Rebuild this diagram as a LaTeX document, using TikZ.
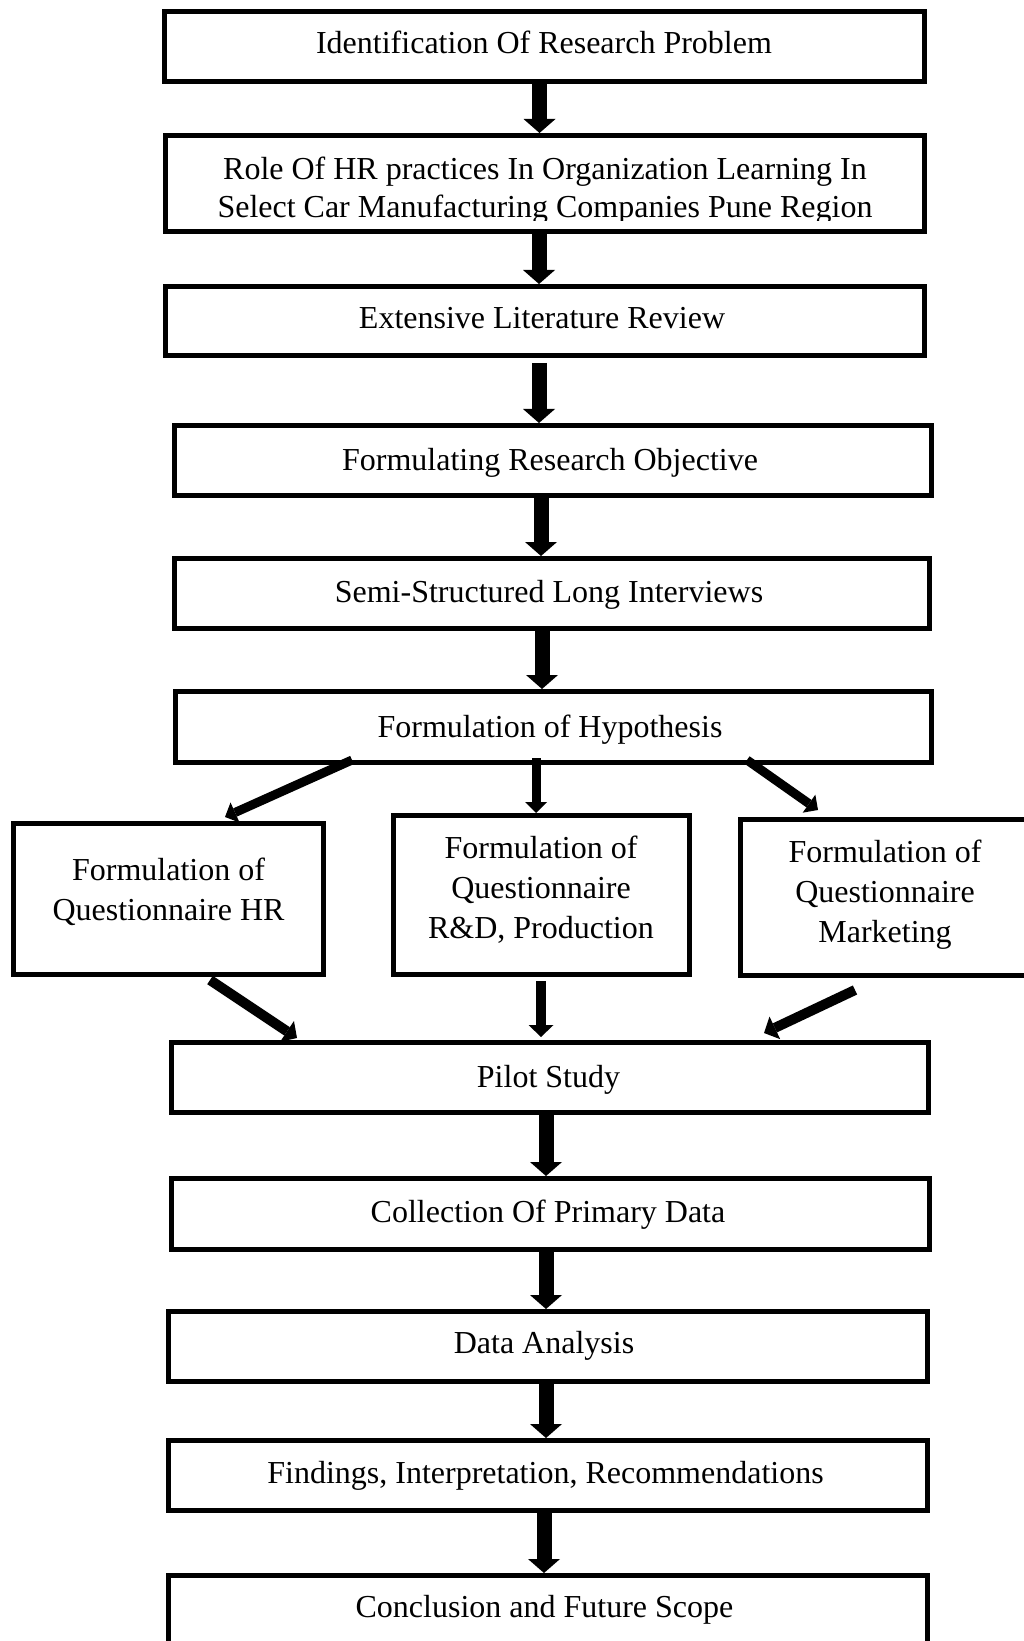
\documentclass[tikz,border=0pt]{standalone}
\usepackage{fontspec}
\setmainfont{Liberation Serif}
\usetikzlibrary{arrows.meta,calc}
\tikzset{
  boxnode/.style={draw, line width=2.5pt, inner sep=0pt, outer sep=1.25pt},
  txt/.style={font=\fontsize{16pt}{20pt}\selectfont, align=center, inner sep=0pt},
  bigarr/.style={line width=7.5pt, -{Triangle[width=16pt,length=7pt,line width=0pt]}},
  midarr/.style={line width=5pt, -{Triangle[width=12.5pt,length=6pt,line width=0pt]}},
  smallarr/.style={line width=4.5pt, -{Triangle[width=11pt,length=5.5pt,line width=0pt]}}
}
% name, left, top, right, bottom (outer edges, in pixels)
\newcommand\flowbox[5]{%
  \node[boxnode, minimum width={(#4-#2-5)*0.5pt}, minimum height={(#5-#3-5)*0.5pt}]
    (#1) at ({(#2+#4)/2},{(#3+#5)/2}) {};}
\begin{document}
\begin{tikzpicture}[x=0.5pt,y=-0.5pt]
\fill[white] (0,0) rectangle (1023,1641);
\useasboundingbox (0,0) rectangle (1023,1641);

% boxes
\flowbox{b1}{162}{9}{927}{84}
\flowbox{b2}{163}{133}{927}{234}
\flowbox{b3}{163}{284}{927}{358}
\flowbox{b4}{172}{423}{934}{498}
\flowbox{b5}{172}{556}{932}{631}
\flowbox{b6}{173}{689}{934}{765}
\flowbox{hr}{11}{821}{326}{977}
\flowbox{rd}{391}{813}{692}{977}
\flowbox{mk}{738}{817}{1030}{978}
\flowbox{pilot}{169}{1040}{931}{1115}
\flowbox{coll}{169}{1176}{932}{1252}
\flowbox{da}{166}{1309}{930}{1384}
\flowbox{find}{166}{1438}{930}{1513}
\flowbox{concl}{166}{1573}{930}{1665}

% texts
\node[txt] (t1) at (544,45.6) {\strut Identification Of Research Problem};
\begin{scope}
  \clip (168,138) rectangle (922,221);
  \node[txt, font=\fontsize{16pt}{19pt}\selectfont] (t2) at (545,191.4)
    {\strut Role Of HR practices In Organization Learning In\\\strut Select Car Manufacturing Companies Pune Region};
\end{scope}
\node[txt] (t3) at (542,320.6) {\strut Extensive Literature Review};
\node[txt] (t4) at (550,462.6) {\strut Formulating Research Objective};
\node[txt] (t5) at (549,594.6) {\strut Semi-Structured Long Interviews};
\node[txt] (t6) at (550,729.6) {\strut Formulation of Hypothesis};
\node[txt] (thr) at (168.5,892.6) {\strut Formulation of\\\strut Questionnaire HR};
\node[txt] (trd) at (541,890.6) {\strut Formulation of\\\strut Questionnaire\\\strut R\&D, Production};
\node[txt] (tmk) at (885,894.6) {\strut Formulation of\\\strut Questionnaire\\\strut Marketing};
\node[txt] (tpilot) at (548.5,1079.6) {\strut Pilot Study};
\node[txt] (tcoll) at (548,1214.6) {\strut Collection Of Primary Data};
\node[txt] (tda) at (544,1345.6) {\strut Data Analysis};
\node[txt] (tfind) at (545.5,1475.6) {\strut Findings, Interpretation, Recommendations};
\node[txt] (tconcl) at (544.5,1609.6) {\strut Conclusion and Future Scope};

% main vertical connectors
\draw[bigarr] ($(b1.south)+(-5,0)$) -- ($(b2.north)+(-5.5,0)$);
\draw[bigarr] ($(b2.south)+(-6,0)$) -- ($(b3.north)+(-6,0)$);
\draw[bigarr] ($(b3.south)+(-6,5)$) -- ($(b4.north)+(-14,0)$);
\draw[bigarr] ($(b4.south)+(-12,0)$) -- ($(b5.north)+(-11,0)$);
\draw[bigarr] ($(b5.south)+(-10,0)$) -- ($(b6.north)+(-11.5,0)$);

% branches from hypothesis
\draw[smallarr] ($(b6.south)+(-201.5,-5)$) -- ($(hr.north)+(56.5,-4)$);
\draw[smallarr] ($(b6.south)+(-17.5,-7)$) -- ($(rd.north)+(-5.5,0)$);
\draw[smallarr] ($(b6.south)+(193.5,-5)$) -- ($(mk.north)+(-66,-7)$);

% branches into pilot study
\draw[midarr] ($(hr.south)+(41.5,3)$) -- ($(pilot.north)+(-253,-2)$);
\draw[midarr] ($(rd.south)+(-0.5,4)$) -- ($(pilot.north)+(-9,-3)$);
\draw[midarr] ($(mk.south)+(-29,12)$) -- ($(pilot.north)+(214,-7)$);

% lower vertical connectors
\draw[bigarr] ($(pilot.south)+(-4,0)$) -- ($(coll.north)+(-4.5,0)$);
\draw[bigarr] ($(coll.south)+(-4.5,0)$) -- ($(da.north)+(-2,0)$);
\draw[bigarr] ($(da.south)+(-2,0)$) -- ($(find.north)+(-2,0)$);
\draw[bigarr] ($(find.south)+(-4,0)$) -- ($(concl.north)+(-4,0)$);
\end{tikzpicture}
\end{document}
